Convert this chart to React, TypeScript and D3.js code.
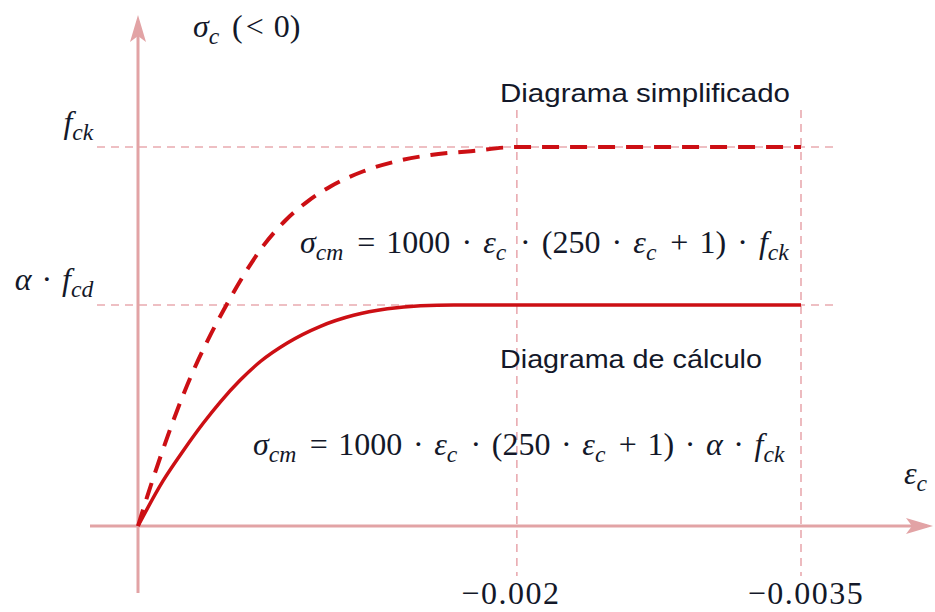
import React from "react";
import * as d3 from "d3";

// Compressive strain (negative) and stress as a fraction of f_ck
const strainSimplified = [0, -0.0000476, -0.000127, -0.000196, -0.000275, -0.00037, -0.000471, -0.000582, -0.000661, -0.000778, -0.000894, -0.001016, -0.00119, -0.00137, -0.001545, -0.001757, -0.002, -0.0035];
const stressSimplified = [0, 0.076, 0.195, 0.291, 0.39, 0.492, 0.587, 0.681, 0.739, 0.806, 0.856, 0.896, 0.936, 0.963, 0.979, 0.989, 1, 1];

const strainDesign = [0, -0.000132, -0.000238, -0.000344, -0.000434, -0.00054, -0.000646, -0.000788, -0.000963, -0.001138, -0.001317, -0.001492, -0.001667, -0.002, -0.0035];
const stressDesign = [0, 0.119, 0.198, 0.271, 0.327, 0.385, 0.434, 0.483, 0.527, 0.556, 0.573, 0.581, 0.583, 0.583, 0.583];

const stressLevels = [1, 0.583]; // f_ck, α·f_cd
const strainTicks = [-0.002, -0.0035];

const W = 935;
const H = 612;

const AXIS = "#e2a3a5";
const GRID = "#e9aab0";
const CURVE = "#cc0f14";
const TEXT = "#131829";
const SERIF = "'Liberation Serif', 'DejaVu Serif', serif";
const SANS = "'Liberation Sans', 'Noto Sans', Arial, sans-serif";

const fs = 32;

function Sub({ t }: { t: string }) {
  return (
    <>
      <tspan dy={fs * 0.22} fontSize={fs * 0.74} fontStyle="italic">{t}</tspan>
      <tspan dy={-fs * 0.22}>{"\u200A"}</tspan>
    </>
  );
}

export default function App() {
  const x = d3.scaleLinear().domain([0, -0.0035]).range([138, 801]);
  const y = d3.scaleLinear().domain([0, 1]).range([526, 147]);

  const line = d3
    .line<[number, number]>()
    .x((d) => x(d[0]))
    .y((d) => y(d[1]))
    .curve(d3.curveMonotoneX);

  const simplified = line(strainSimplified.map((s, i) => [s, stressSimplified[i]]) as [number, number][]) || "";
  const design = line(strainDesign.map((s, i) => [s, stressDesign[i]]) as [number, number][]) || "";

  const fmt = d3.format("~g");
  const x0 = x(0);
  const y0 = y(0);
  const xEnd = 933;
  const yTop = 15;

  return (
    <svg width={W} height={H} style={{ position: "absolute", left: 0, top: 0, background: "#fff" }}>
      {/* horizontal reference levels */}
      {stressLevels.map((v) => (
        <line key={v} x1={97} x2={836} y1={y(v)} y2={y(v)} stroke={GRID} strokeWidth={1.6} strokeDasharray="8 6" />
      ))}
      {/* vertical reference strains */}
      {strainTicks.map((t) => (
        <line key={t} x1={x(t)} x2={x(t)} y1={110} y2={576} stroke={GRID} strokeWidth={1.6} strokeDasharray="8 6" />
      ))}

      {/* axes */}
      <line x1={x0} x2={x0} y1={593} y2={yTop + 6} stroke={AXIS} strokeWidth={3} />
      <path d={`M${x0},${yTop} L${x0 + 8},${yTop + 27} L${x0},${yTop + 21} L${x0 - 8},${yTop + 27} Z`} fill={AXIS} />
      <line x1={90} x2={xEnd - 6} y1={y0} y2={y0} stroke={AXIS} strokeWidth={3} />
      <path d={`M${xEnd},${y0} L${xEnd - 27},${y0 + 8} L${xEnd - 21},${y0} L${xEnd - 27},${y0 - 8} Z`} fill={AXIS} />

      {/* curves */}
      <path d={simplified} fill="none" stroke={CURVE} strokeWidth={4} strokeDasharray="17 11" />
      <path d={design} fill="none" stroke={CURVE} strokeWidth={3.5} />

      {/* axis titles */}
      <text x={193} y={37} fontFamily={SERIF} fontSize={fs} fill={TEXT} wordSpacing={2}>
        <tspan fontStyle="italic">σ</tspan>
        <Sub t="c" />
        <tspan> (</tspan>
        <tspan dx={3}>&lt; 0)</tspan>
      </text>
      <text x={904} y={484} fontFamily={SERIF} fontSize={fs} fill={TEXT}>
        <tspan fontStyle="italic">ε</tspan>
        <Sub t="c" />
      </text>

      {/* stress level labels */}
      <text x={96} y={y(stressLevels[0]) - 14} textAnchor="end" fontFamily={SERIF} fontSize={fs} fill={TEXT}>
        <tspan fontStyle="italic">f</tspan>
        <Sub t="ck" />
      </text>
      <text x={96} y={y(stressLevels[1]) - 15} textAnchor="end" fontFamily={SERIF} fontSize={fs} fill={TEXT} wordSpacing={2}>
        <tspan fontStyle="italic">α</tspan>
        <tspan> · </tspan>
        <tspan fontStyle="italic">f</tspan>
        <Sub t="cd" />
      </text>

      {/* strain tick labels */}
      {strainTicks.map((t, i) => (
        <text key={t} x={x(t)} dx={i === 0 ? -6 : 5} y={604} textAnchor="middle" fontFamily={SERIF} fontSize={fs} fill={TEXT} letterSpacing={1.5}>
          {fmt(t)}
        </text>
      ))}

      {/* diagram names */}
      <text x={500} y={102} fontFamily={SANS} fontSize={25} fill={TEXT} textLength={290} lengthAdjust="spacingAndGlyphs">
        Diagrama simplificado
      </text>
      <text x={500} y={368} fontFamily={SANS} fontSize={25} fill={TEXT} textLength={262} lengthAdjust="spacingAndGlyphs">
        Diagrama de cálculo
      </text>

      {/* constitutive equations */}
      <text x={300} y={253} fontFamily={SERIF} fontSize={fs} fill={TEXT} wordSpacing={3.1}>
        <tspan fontStyle="italic">σ</tspan>
        <Sub t="cm" />
        <tspan> = 1000 · </tspan>
        <tspan fontStyle="italic">ε</tspan>
        <Sub t="c" />
        <tspan> · (250 · </tspan>
        <tspan fontStyle="italic">ε</tspan>
        <Sub t="c" />
        <tspan> + 1) · </tspan>
        <tspan fontStyle="italic">f</tspan>
        <Sub t="ck" />
      </text>
      <text x={253} y={455} fontFamily={SERIF} fontSize={fs} fill={TEXT} wordSpacing={2.6}>
        <tspan fontStyle="italic">σ</tspan>
        <Sub t="cm" />
        <tspan> = 1000 · </tspan>
        <tspan fontStyle="italic">ε</tspan>
        <Sub t="c" />
        <tspan> · (250 · </tspan>
        <tspan fontStyle="italic">ε</tspan>
        <Sub t="c" />
        <tspan> + 1) · </tspan>
        <tspan fontStyle="italic">α</tspan>
        <tspan> · </tspan>
        <tspan fontStyle="italic">f</tspan>
        <Sub t="ck" />
      </text>
    </svg>
  );
}
